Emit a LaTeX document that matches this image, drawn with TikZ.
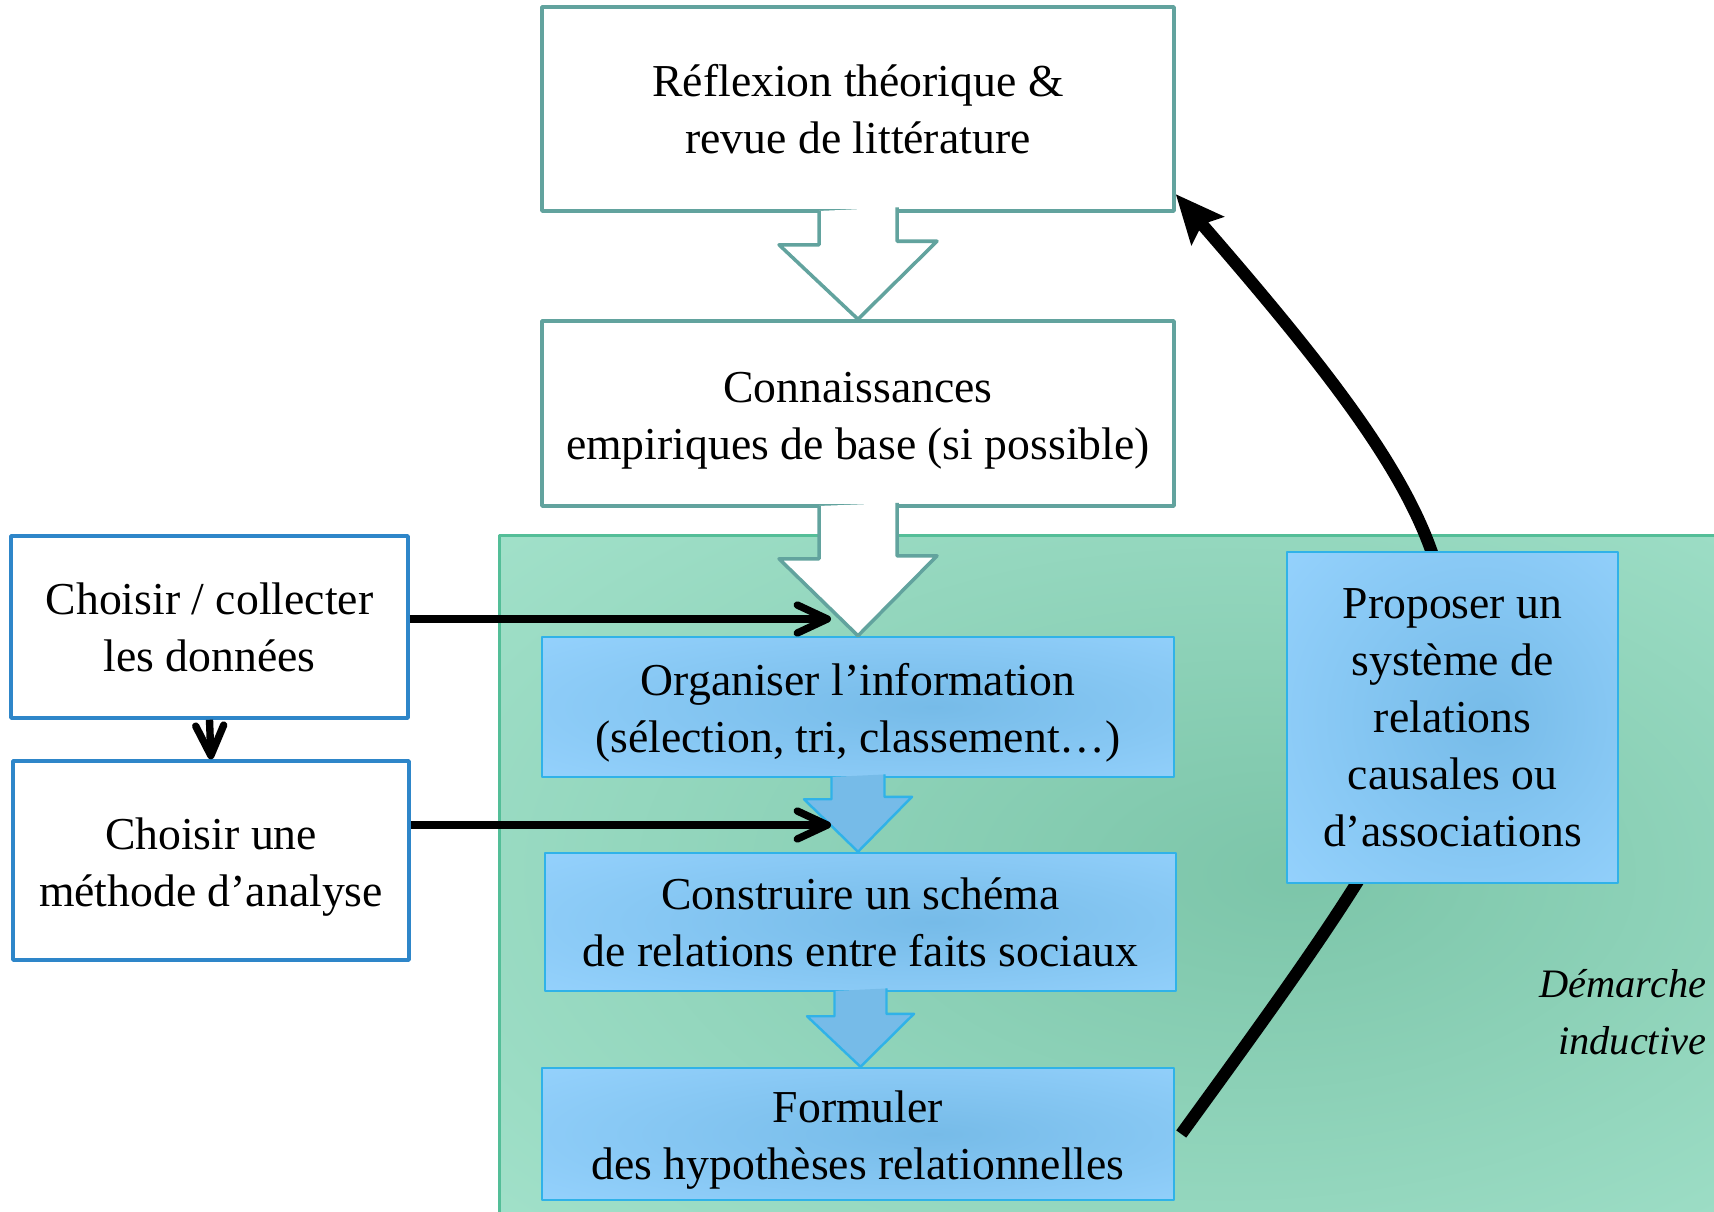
\documentclass[tikz,border=0pt]{standalone}
\usepackage{fontspec}
\setmainfont{Liberation Serif}
\usetikzlibrary{arrows.meta, calc}

\definecolor{tealline}{RGB}{98,163,158}
\definecolor{sideblue}{RGB}{46,134,201}
\definecolor{zonelight}{RGB}{163,226,203}
\definecolor{zonedark}{RGB}{124,197,169}
\definecolor{zoneline}{RGB}{84,190,152}
\definecolor{steplight}{RGB}{152,212,255}
\definecolor{stepdark}{RGB}{118,187,232}
\definecolor{stepline}{RGB}{48,178,232}

\pgfdeclareradialshading{zoneshade}{\pgfpoint{8bp}{0bp}}{%
  color(0bp)=(zonedark); color(40bp)=(zonelight); color(60bp)=(zonelight)}
\pgfdeclareradialshading{stepshade}{\pgfpoint{6bp}{0bp}}{%
  color(0bp)=(stepdark); color(42bp)=(steplight); color(60bp)=(steplight)}

% lowers the first line a little
\newcommand{\topstrut}{\rule{0pt}{12.5pt}}

\begin{document}
\begin{tikzpicture}[
    line join = round,
    %
    box/.style = {draw = tealline, fill = white,
      line width = 1pt,
      font = \fontsize{13}{16.2}\selectfont,
      align = center, inner sep = 0pt},
    sidebox/.style = {box, draw = sideblue},
    stepbox/.style = {box, draw = stepline, line width = 0.7pt,
      shading = stepshade},
    %
    bigarrow/.style = {draw = tealline, fill = white, line width = 1pt},
    steparrow/.style = {draw = stepline, fill = stepdark, line width = 0.7pt},
    flow/.style = {line width = 2.1pt,
      -{Straight Barb[round, length = 3mm, width = 2.8mm]}},
    loop/.style = {line width = 3.5pt,
      -{Stealth[length = 4.8mm, width = 4.2mm, inset = 0.8mm]}},
    ]

    \useasboundingbox (0, 0) rectangle (17.14, -12.12);

    % inductive zone
    \node at (11.07, -8.74)
    [shading = zoneshade, minimum width = 12.14cm, minimum height = 6.76cm,
      inner sep = 0pt, name = zone] {};
    \draw [zoneline, line width = 1pt]
    (zone.south west) -- (zone.north west) -- (zone.north east);

    \node at (8.58, -1.09)
    [box, minimum width = 6.32cm, minimum height = 2.04cm, name = R1]
    {Réflexion théorique \&\\ revue de littérature};
    \node at (8.58, -4.135)
    [box, minimum width = 6.32cm, minimum height = 1.85cm, name = C1]
    {\topstrut Connaissances\\ empiriques de base (si possible)};

    \node at (8.58, -7.07)
    [stepbox, minimum width = 6.32cm, minimum height = 1.40cm, name = O1]
    {\topstrut Organiser l’information\\ (sélection, tri, classement…)};
    \node at (8.605, -9.22)
    [stepbox, minimum width = 6.31cm, minimum height = 1.38cm, name = S1]
    {Construire un schéma\\ de relations entre faits sociaux};
    \node at (8.58, -11.34)
    [stepbox, minimum width = 6.32cm, minimum height = 1.32cm, name = F1]
    {\topstrut Formuler\\ des hypothèses relationnelles};

    \node at (2.095, -6.27)
    [sidebox, minimum width = 3.97cm, minimum height = 1.82cm, name = A1]
    {Choisir / collecter\\ les données};
    \node at (2.11, -8.605)
    [sidebox, minimum width = 3.96cm, minimum height = 1.99cm, name = B1]
    {\topstrut Choisir une\\ méthode d’analyse};

    \filldraw [bigarrow] ($(R1.south) + (-0.39, 0.018)$) -- ++(0, -0.338)
    -- ++(-0.40, 0) -- (C1.north) -- ++(0.79, 0.78) -- ++(-0.40, 0)
    -- ++(0, 0.338);
    \filldraw [bigarrow] ($(C1.south) + (-0.39, 0.018)$) -- ++(0, -0.528)
    -- ++(-0.40, 0) -- (O1.north) -- ++(0.79, 0.80) -- ++(-0.40, 0)
    -- ++(0, 0.528);

    \filldraw [steparrow] ($(O1.south) + (-0.265, 0.013)$) -- ++(0, -0.223)
    -- ++(-0.275, 0) -- (O1.south |- S1.north) -- ++(0.54, 0.55)
    -- ++(-0.275, 0) -- ++(0, 0.223);
    \filldraw [steparrow] ($(S1.south) + (-0.26, 0.013)$) -- ++(0, -0.253)
    -- ++(-0.275, 0) -- (S1.south |- F1.north) -- ++(0.535, 0.53)
    -- ++(-0.275, 0) -- ++(0, 0.253);

    \coordinate (in1) at (8.31, -6.19);
    \coordinate (in2) at (8.31, -8.25);

    \draw [flow] (A1.east |- in1) to (in1);
    \draw [flow] (B1.east |- in2) to (in2);
    \draw [flow] (A1.south) to (B1.north);

    \draw [loop] ($(F1.east) + (0.06, 0)$)
    to [out = 54, in = -49, looseness = 1.55] (R1.-15);

    \node at (14.525, -7.175)
    [stepbox, minimum width = 3.31cm, minimum height = 3.31cm, name = P1]
    {Proposer un\\ système de\\ relations\\ causales ou\\ d’associations};

    \node at (17.07, -10.12)
    [anchor = east, align = right, inner sep = 0pt,
      font = \fontsize{11.5}{16.2}\selectfont\itshape, name = label]
    {Démarche\\ inductive};

  \end{tikzpicture}
\end{document}
